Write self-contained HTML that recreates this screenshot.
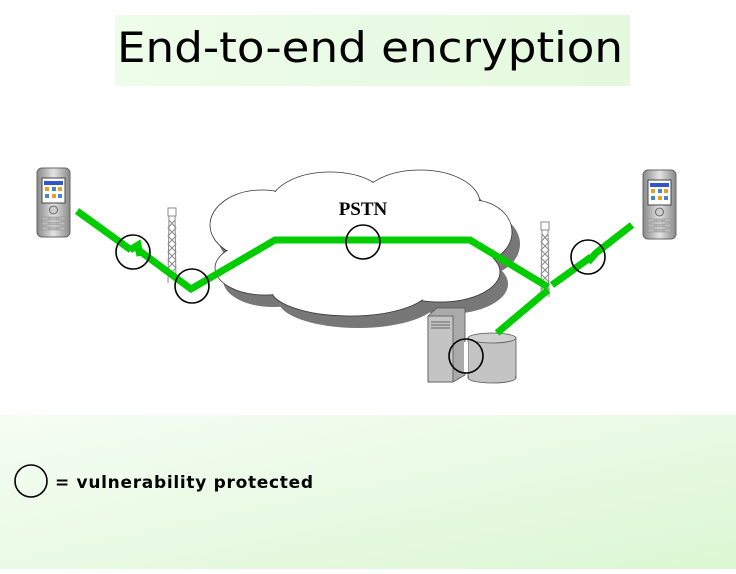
<!DOCTYPE html>
<html><head><style>
body{margin:0;width:736px;height:569px;overflow:hidden;background:#fff;font-family:"Liberation Sans",sans-serif}
</style></head><body>
<svg width="736" height="569" xmlns="http://www.w3.org/2000/svg">
<defs>
<linearGradient id="bg" x1="0" y1="0" x2="1" y2="1">
<stop offset="0" stop-color="#f6fdf4"/><stop offset="1" stop-color="#dcf7d4"/></linearGradient>
<linearGradient id="tb" x1="0" y1="0" x2="1" y2="0">
<stop offset="0" stop-color="#eefcea"/><stop offset="1" stop-color="#e4f9de"/></linearGradient>
<linearGradient id="ph" x1="0" y1="0" x2="1" y2="0">
<stop offset="0" stop-color="#888"/><stop offset=".5" stop-color="#e4e4e4"/><stop offset="1" stop-color="#888"/></linearGradient>
<g id="phone">
<rect x="0" y="0" width="33" height="69" rx="5" fill="url(#ph)" stroke="#666"/>
<rect x="5" y="10" width="23" height="25" fill="#fff" stroke="#444"/>
<rect x="7" y="13" width="19" height="4" fill="#35c"/>
<g fill="#e8a020"><rect x="8" y="19" width="4" height="4"/><rect x="15" y="19" width="4" height="4" fill="#48c"/><rect x="21" y="19" width="4" height="4"/><rect x="8" y="26" width="4" height="4" fill="#48c"/><rect x="15" y="26" width="4" height="4"/><rect x="21" y="26" width="4" height="4" fill="#48c"/></g>
<circle cx="16.5" cy="42" r="4" fill="#ccc" stroke="#666"/>
<g fill="#bbb" stroke="#888" stroke-width=".5"><rect x="5" y="49" width="7" height="3"/><rect x="13" y="49" width="7" height="3"/><rect x="21" y="49" width="7" height="3"/><rect x="5" y="54" width="7" height="3"/><rect x="13" y="54" width="7" height="3"/><rect x="21" y="54" width="7" height="3"/><rect x="5" y="59" width="7" height="3"/><rect x="13" y="59" width="7" height="3"/><rect x="21" y="59" width="7" height="3"/></g>
</g>
<g id="tower" fill="none" stroke="#888" stroke-width="1">
<rect x="-4" y="0" width="8" height="8"/>
<path d="M-3 8 L-4 75 M3 8 L4 75 M-3 12 L4 20 L-4 28 L4 36 L-4 44 L4 52 L-4 60 L4 68 M3 12 L-4 20 L4 28 L-4 36 L4 44 L-4 52 L4 60 L-4 68"/>
</g>
</defs>
<rect x="0" y="415" width="736" height="154" fill="url(#bg)"/>
<rect x="115" y="15" width="515" height="71" fill="url(#tb)"/>
<text x="117" y="62" font-family="DejaVu Sans,sans-serif" font-size="42" fill="#000" textLength="506" lengthAdjust="spacingAndGlyphs">End-to-end encryption</text>

<g fill="#777" transform="translate(8,12)">
<ellipse cx="262" cy="225" rx="52" ry="35"/><ellipse cx="330" cy="205" rx="60" ry="33"/><ellipse cx="420" cy="203" rx="60" ry="33"/><ellipse cx="472" cy="232" rx="40" ry="32"/><ellipse cx="440" cy="272" rx="60" ry="30"/><ellipse cx="350" cy="288" rx="80" ry="28"/><ellipse cx="265" cy="268" rx="50" ry="27"/>
</g>
<g fill="#fff" stroke="#333" stroke-width="0.8">
<ellipse cx="262" cy="225" rx="52" ry="35"/><ellipse cx="330" cy="205" rx="60" ry="33"/><ellipse cx="420" cy="203" rx="60" ry="33"/><ellipse cx="472" cy="232" rx="40" ry="32"/><ellipse cx="440" cy="272" rx="60" ry="30"/><ellipse cx="350" cy="288" rx="80" ry="28"/><ellipse cx="265" cy="268" rx="50" ry="27"/>
</g>
<g fill="#fff">
<ellipse cx="262" cy="225" rx="51" ry="34"/><ellipse cx="330" cy="205" rx="59" ry="32"/><ellipse cx="420" cy="203" rx="59" ry="32"/><ellipse cx="472" cy="232" rx="39" ry="31"/><ellipse cx="440" cy="272" rx="59" ry="29"/><ellipse cx="350" cy="288" rx="79" ry="27"/><ellipse cx="265" cy="268" rx="49" ry="26"/><ellipse cx="360" cy="245" rx="110" ry="42"/>
</g>
<text x="363" y="215" text-anchor="middle" font-family="Liberation Serif,serif" font-weight="bold" font-size="19">PSTN</text>

<use href="#tower" x="172" y="208"/>
<use href="#tower" x="545" y="222"/>
<use href="#phone" x="37" y="168"/>
<use href="#phone" x="643" y="170"/>

<polygon points="428,316 437,308 465,308 465,375 453,382 428,382" fill="#aaa" stroke="#555" stroke-width=".8"/>
<rect x="428" y="316" width="25" height="66" fill="#c4c4c4" stroke="#555" stroke-width=".8"/>
<path d="M431 322h19M431 325h19M431 328h19" stroke="#666"/>
<rect x="468" y="338" width="48" height="40" fill="#c4c4c4" stroke="#555" stroke-width=".8"/>
<ellipse cx="492" cy="378" rx="24" ry="5" fill="#c4c4c4" stroke="#555" stroke-width=".8"/>
<rect x="469" y="338" width="46" height="39" fill="#c4c4c4"/>
<ellipse cx="492" cy="338" rx="24" ry="5" fill="#d0d0d0" stroke="#555" stroke-width=".8"/>
<rect x="464" y="342" width="4" height="30" fill="#fff"/>

<g stroke="#00cc00" stroke-width="7" fill="none" stroke-linejoin="miter">
<polyline points="77,211 131,250"/>
<polyline points="137,249 191,289 275,240 470,240 548,287"/>
<polyline points="130,250 138,245 140,256"/>
<polyline points="552,285 591,257"/>
<polyline points="588,262 596,253 632,225"/>
<polyline points="548,290 497,333"/>
</g>

<g fill="none" stroke="#000" stroke-width="1.6">
<circle cx="133" cy="252" r="17"/><circle cx="192" cy="286" r="17"/><circle cx="363" cy="242" r="17"/><circle cx="588" cy="257" r="17"/><circle cx="466" cy="356" r="17"/><circle cx="31" cy="481" r="16"/>
</g>
<text x="55" y="488" font-size="17" font-weight="bold" font-family="DejaVu Sans,sans-serif" textLength="258">= vulnerability protected</text>
</svg>
</body></html>
